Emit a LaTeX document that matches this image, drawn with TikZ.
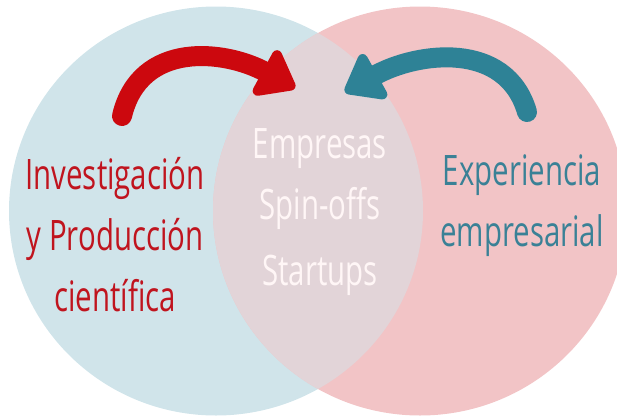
\documentclass[tikz,border=0pt]{standalone}
\usepackage{fontspec}
\setmainfont{Open Sans}[FakeStretch=0.7]
\usetikzlibrary{arrows.meta}

\definecolor{venblue}{RGB}{208,228,234}
\definecolor{venpink}{RGB}{242,196,198}
\definecolor{venlens}{RGB}{226,212,216}
\definecolor{arrred}{RGB}{204,8,14}
\definecolor{arrblue}{RGB}{46,130,150}
\definecolor{txtred}{RGB}{192,20,30}
\definecolor{txtblue}{RGB}{58,129,150}
\definecolor{txtwhite}{RGB}{255,246,246}

\begin{document}
\begin{tikzpicture}[x=0.5pt,y=-0.5pt,
		bigarrow/.style={line width=10pt,line cap=round,-{Triangle[round,length=20pt,width=29pt]}},
		label/.style={align=center,font=\fontsize{21}{30.5}\selectfont}]
			\useasboundingbox (0,0) rectangle (617,419);

			\fill[venblue] (216,211) ellipse (207 and 204.5);
			\fill[venpink] (420,211) ellipse (207 and 204.5);
			\begin{scope}
				\clip (216,211) ellipse (207 and 204.5);
				\fill[venlens] (420,211) ellipse (207 and 204.5);
			\end{scope}

			\coordinate (redtail) at (122,116);
			\coordinate (redtip) at (295,88);
			\coordinate (bluetail) at (527,112);
			\coordinate (bluetip) at (345,92);
			\draw[arrred][bigarrow] (redtail) .. controls (140,40) and (225,50) .. (redtip);
			\draw[arrblue][bigarrow] (bluetail) .. controls (506,40) and (417,52) .. (bluetip);

			\node[label,txtred] (ciencia) at (115,235) {Investigación\\y Producción\\científica};
			\node[label,txtwhite] (empresas) at (320,212) {Empresas\\Spin-offs\\[2.5pt]Startups};
			\node[label,txtblue] (experiencia) at (522,206) {Experiencia\\empresarial};
		\end{tikzpicture}
\end{document}
